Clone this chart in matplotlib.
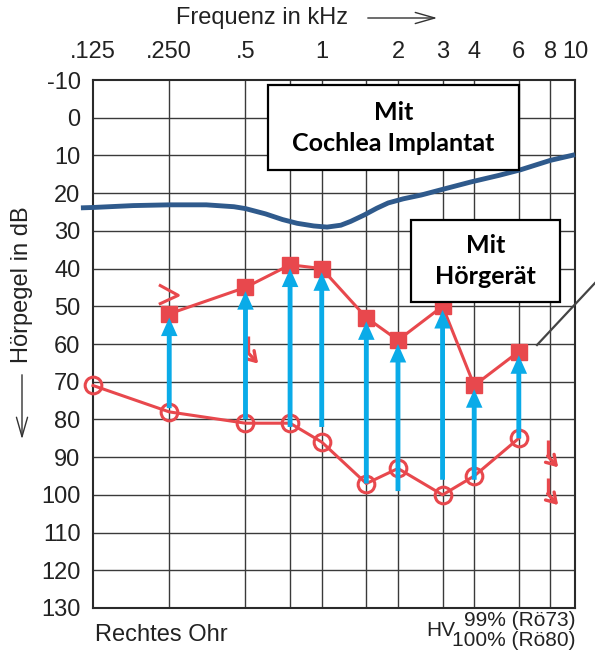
import numpy as np
import matplotlib
matplotlib.use("Agg")
import matplotlib.pyplot as plt
from matplotlib.lines import Line2D

plt.rcParams["font.family"] = ["Liberation Sans", "DejaVu Sans"]
plt.rcParams["axes.unicode_minus"] = False

# frequency axis (kHz)
tick_freqs = [0.125, 0.25, 0.5, 1, 2, 3, 4, 6, 8, 10]
tick_labels = [".125", ".250", ".5", "1", "2", "3", "4", "6", "8", "10"]
grid_freqs = [0.25, 0.5, 0.75, 1, 1.5, 2, 3, 4, 6, 8]
db_ticks = list(range(-10, 131, 10))

# unaided thresholds (circles)
unaided_f = [0.125, 0.25, 0.5, 0.75, 1, 1.5, 2, 3, 4, 6]
unaided_db = [71, 78, 81, 81, 86, 97, 93, 100, 95, 85]

# with hearing aid (squares)
aided_f = [0.25, 0.5, 0.75, 1, 1.5, 2, 3, 4, 6]
aided_db = [52, 45, 39, 40, 53, 59, 50, 71, 62]

# blue arrows: start (dB) -> tip (dB)
arrow_f = [0.25, 0.5, 0.75, 1, 1.5, 2, 3, 4, 6]
arrow_start = [77, 80, 82, 82, 97, 99, 96, 96, 85]
arrow_end = [53, 46, 40, 41, 54, 60, 51, 72, 63]

# with cochlear implant (smooth curve)
ci_f = [0.112, 0.125, 0.18, 0.25, 0.35, 0.45, 0.5, 0.6, 0.7, 0.8, 0.93,
        1.05, 1.19, 1.3, 1.47, 1.65, 1.83, 2.1, 2.47, 3.0, 3.9, 5.0, 6.1,
        8.0, 10.0]
ci_db = [23.9, 23.8, 23.3, 23.1, 23.1, 23.6, 24.1, 25.5, 27.0, 28.0, 28.7,
         29.0, 28.5, 27.5, 25.8, 24.0, 22.6, 21.5, 20.5, 19.0, 17.0, 15.3,
         13.8, 11.3, 9.8]

# "no response" hooks (freq, dB at top of stroke)
hook_f = [0.51, 7.8, 7.8]
hook_db = [58, 85.5, 95.5]

# bone conduction chevron at .250 kHz
chev_f = [0.2304, 0.2713, 0.2304]
chev_db = [44.5, 47.1, 49.3]

red = "#e8484d"
lightblue = "#0aabe8"
darkblue = "#2f5a8c"
txt = "#222222"

W, H = 595, 652
fig = plt.figure(figsize=(W / 100, H / 100), dpi=100)
ax = fig.add_axes([93 / W, 1 - 608 / H, 482 / W, 528 / H])
ax.set_xscale("log")
ax.set_xlim(0.125, 10)
ax.set_ylim(130, -10)

ax.xaxis.tick_top()
ax.set_xticks(tick_freqs)
ax.set_xticklabels(tick_labels)
ax.xaxis.set_minor_locator(matplotlib.ticker.NullLocator())
ax.set_yticks(db_ticks)
ax.tick_params(axis="both", length=0, labelsize=17, colors=txt)
ax.tick_params(axis="x", pad=12)
ax.tick_params(axis="y", pad=9)

for f in grid_freqs:
    ax.axvline(f, color="#3a3a3a", lw=1.0, zorder=1)
for d in db_ticks[1:-1]:
    ax.axhline(d, color="#3a3a3a", lw=1.0, zorder=1)
for s in ax.spines.values():
    s.set_linewidth(1.5)
    s.set_color("#2a2a2a")

# cochlear implant curve
ax.plot(ci_f, ci_db, color=darkblue, lw=3.5, zorder=4, clip_on=False,
        solid_capstyle="butt", solid_joinstyle="round")

# unaided
ax.plot(unaided_f, unaided_db, color=red, lw=2.2, marker="o", ms=12,
        mfc="none", mec=red, mew=2.2, zorder=3, clip_on=False)
# aided
ax.plot(aided_f, aided_db, color=red, lw=2.2, marker="s", ms=11,
        mfc=red, mec=red, zorder=3)

# blue arrows
for f, a, b in zip(arrow_f, arrow_start, arrow_end):
    ax.annotate("", xy=(f, b), xytext=(f, a),
                arrowprops=dict(arrowstyle="simple,head_width=1.7,head_length=1.9,tail_width=0.5",
                                mutation_scale=7, fc=lightblue, ec="none", lw=0,
                                shrinkA=0, shrinkB=0), zorder=5)

# small red symbols
ax.plot(chev_f, chev_db, color=red, lw=2.2, zorder=3)
for f, d in zip(hook_f, hook_db):
    ax.plot([f, f], [d, d + 4.2], color=red, lw=2.4, zorder=3,
            solid_capstyle="butt")
    ax.annotate("", xy=(f * 1.1, d + 7.2), xytext=(f, d + 4.2),
                annotation_clip=False,
                arrowprops=dict(arrowstyle="->,head_width=0.35,head_length=0.55",
                                mutation_scale=12, color=red, lw=2.4,
                                shrinkA=0, shrinkB=0), zorder=3)

# boxes
box_font = ["Lato", "DejaVu Sans"]
fig.text((268 + 519) / 2 / W, 1 - 128 / H, "Mit\nCochlea Implantat", ha="center",
         va="center", fontsize=18, fontweight="bold", family=box_font,
         linespacing=1.45, zorder=10)
fig.patches.append(plt.Rectangle((268 / W, 1 - 170 / H), 251 / W, 85 / H,
                                 transform=fig.transFigure, fc="white",
                                 ec="black", lw=1.6, zorder=9))
fig.text((411 + 560) / 2 / W, 1 - 261 / H, "Mit\nHörgerät", ha="center",
         va="center", fontsize=18, fontweight="bold", family=box_font,
         linespacing=1.45, zorder=10)
fig.patches.append(plt.Rectangle((411 / W, 1 - 302 / H), 149 / W, 82 / H,
                                 transform=fig.transFigure, fc="white",
                                 ec="black", lw=1.6, zorder=9))

# grey pointer line
fig.lines.append(Line2D([537 / W, 1.0], [1 - 345 / H, 1 - 283 / H],
                        transform=fig.transFigure, color="#444444", lw=1.6))

# titles
fig.text(262 / W, 1 - 18 / H, "Frequenz in kHz", ha="center", va="center",
         fontsize=17, color=txt)
fig.add_artist(matplotlib.patches.FancyArrowPatch(
    (365 / W, 1 - 18 / H), (440 / W, 1 - 18 / H), transform=fig.transFigure,
    arrowstyle="->,head_width=4,head_length=14", color="#333333", lw=1.0))
fig.text(22 / W, 1 - 285 / H, "Hörpegel in dB", rotation=90,
         ha="center", va="center", fontsize=17, color=txt)
fig.add_artist(matplotlib.patches.FancyArrowPatch(
    (22 / W, 1 - 372 / H), (22 / W, 1 - 442 / H), transform=fig.transFigure,
    arrowstyle="->,head_width=4,head_length=14", color="#333333", lw=1.0))

fig.text(95 / W, 1 - 635 / H, "Rechtes Ohr", ha="left", va="center",
         fontsize=17, color=txt)
fig.text(455 / W, 1 - 631 / H, "HV", ha="right", va="center",
         fontsize=15, color=txt)
fig.text(575 / W, 1 - 620 / H, "99% (Rö73)", ha="right", va="center",
         fontsize=15, color=txt)
fig.text(575 / W, 1 - 641 / H, "100% (Rö80)", ha="right", va="center",
         fontsize=15, color=txt)

fig.savefig("out.png", dpi=100)
